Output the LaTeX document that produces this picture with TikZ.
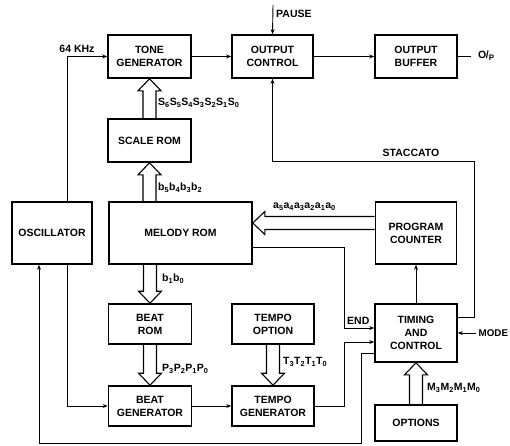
\documentclass[tikz,border=0pt]{standalone}
\usepackage{fontspec}
\setmainfont{Liberation Sans}
\usetikzlibrary{calc,arrows.meta}
\newcommand\hollowarr[2]{%
  \coordinate (ha) at (#1);
  \coordinate (hb) at (#2);
  \coordinate (hh) at ($(hb)!12pt!(ha)$);
  \draw[hollowline] ($(ha)!6.5pt!90:(hb)$) -- ($(hh)!6.5pt!90:(hb)$) -- ($(hh)!11.5pt!90:(hb)$) -- (hb)
     -- ($(hh)!11.5pt!-90:(hb)$) -- ($(hh)!6.5pt!-90:(hb)$) -- ($(ha)!6.5pt!-90:(hb)$);
}
\begin{document}
\begin{tikzpicture}[x=1pt,y=-1pt,
  blk/.style={draw,line width=1.6pt,align=center,inner sep=0pt,
    font=\fontsize{10.5}{13}\selectfont\bfseries},
  conn/.style={line width=0.9pt,-{Stealth[length=5pt,width=4pt]}},
  plain/.style={line width=0.9pt},
  hollowline/.style={line width=1.1pt,line join=miter},
  lbl/.style={font=\fontsize{10.5}{12}\selectfont\bfseries,inner sep=0pt}]
\useasboundingbox (0,0) rectangle (510,445);
% blocks
\node[blk,minimum width=83pt,minimum height=43pt] (tone) at (149.5,56.5) {TONE\\GENERATOR};
\node[blk,minimum width=81pt,minimum height=43pt] (outc) at (272.5,56.5) {OUTPUT\\CONTROL};
\node[blk,minimum width=82pt,minimum height=43pt] (outb) at (416,56.5) {OUTPUT\\BUFFER};
\node[blk,minimum width=83pt,minimum height=43pt] (scale) at (149.5,140.5) {SCALE ROM};
\node[blk,minimum width=80pt,minimum height=62pt] (osc) at (52,233) {OSCILLATOR};
\node[blk,minimum width=143pt,minimum height=62pt] (melody) at (180.5,233) {MELODY ROM};
\node[blk,minimum width=81pt,minimum height=62pt] (pc) at (416,233) {PROGRAM\\COUNTER};
\node[blk,minimum width=83pt,minimum height=40pt] (beatrom) at (150,324) {BEAT\\ROM};
\node[blk,minimum width=82pt,minimum height=40pt] (tempoopt) at (273,324) {TEMPO\\OPTION};
\node[blk,minimum width=82pt,minimum height=58pt] (timing) at (416,333) {TIMING\\AND\\CONTROL};
\node[blk,minimum width=83pt,minimum height=40pt] (beatgen) at (150,406) {BEAT\\GENERATOR};
\node[blk,minimum width=82pt,minimum height=40pt] (tempogen) at (273,406) {TEMPO\\GENERATOR};
\node[blk,minimum width=82pt,minimum height=36pt] (options) at (416,423) {OPTIONS};
% free ends
\coordinate (pausein) at (273,5);
\coordinate (modein) at (476,333);
\coordinate (opout) at (471,56.5);
\coordinate (stacc) at (474,161);
\coordinate (loopc) at (361,443);
% connectors
\draw[conn] ([xshift=15pt]osc.north) |- (tone.west);
\draw[conn] ([xshift=15pt]osc.south) |- (beatgen.west);
\draw[conn] ([yshift=-20pt]timing.west) -| (loopc) -| ([xshift=-13pt]osc.south);
\draw[conn] (tone.east) -- (outc.west);
\draw[conn] (outc.east) -- (outb.west);
\draw[plain] (outb.east) -- (opout);
\draw[conn] (pausein) -- (outc.north);
\draw[conn] ([yshift=16pt]timing.east) -| (stacc) -| (outc.south);
\draw[conn] (modein) -- (timing.east);
\draw[conn] (timing.north) -- (pc.south);
\draw[conn] ([yshift=-14pt]melody.east) -| ([xshift=-30pt,yshift=5pt]timing.west) -- ([yshift=5pt]timing.west);
\draw[conn] (tempogen.east) -| ([xshift=-30pt,yshift=-9pt]timing.west) -- ([yshift=-9pt]timing.west);
\draw[conn] (beatgen.east) -- (tempogen.west);
% hollow bus arrows
\hollowarr{scale.north}{tone.south}
\hollowarr{scale.south |- melody.north}{scale.south}
\hollowarr{beatrom.north |- melody.south}{beatrom.north}
\hollowarr{beatrom.south}{beatgen.north}
\hollowarr{tempoopt.south}{tempogen.north}
\hollowarr{options.north}{timing.south}
\hollowarr{[yshift=10pt]pc.west}{[yshift=10pt]melody.east}
% labels
\node[lbl] (l64) at (77,49) {64 KHz};
\node[lbl,anchor=west] (lpause) at (276,14) {PAUSE};
\node[lbl] (lstacc) at (411,153) {STACCATO};
\node[lbl,anchor=west,font=\fontsize{9.8}{12}\selectfont\bfseries] (lmode) at (478.5,333) {MODE};
\node[lbl,anchor=west] (lend) at (347,321) {END};
\node[lbl,anchor=west] (lop) at (478,56) {O\kern-0.5pt/\raisebox{-2pt}{\fontsize{8}{8}\selectfont P}};
\node[lbl,anchor=west] (ls) at (158,103) {S\textsubscript{6}S\textsubscript{5}S\textsubscript{4}S\textsubscript{3}S\textsubscript{2}S\textsubscript{1}S\textsubscript{0}};
\node[lbl,anchor=west] (lb5) at (158,188) {b\textsubscript{5}b\textsubscript{4}b\textsubscript{3}b\textsubscript{2}};
\node[lbl,anchor=west] (lb1) at (162,279) {b\textsubscript{1}b\textsubscript{0}};
\node[lbl,anchor=west] (lp) at (162,369) {P\textsubscript{3}P\textsubscript{2}P\textsubscript{1}P\textsubscript{0}};
\node[lbl,anchor=west] (lt) at (283,362) {T\textsubscript{3}T\textsubscript{2}T\textsubscript{1}T\textsubscript{0}};
\node[lbl,anchor=west] (lm) at (427,388) {M\textsubscript{3}M\textsubscript{2}M\textsubscript{1}M\textsubscript{0}};
\node[lbl,anchor=west] (la) at (273,207) {a\textsubscript{5}a\textsubscript{4}a\textsubscript{3}a\textsubscript{2}a\textsubscript{1}a\textsubscript{0}};
\end{tikzpicture}
\end{document}
